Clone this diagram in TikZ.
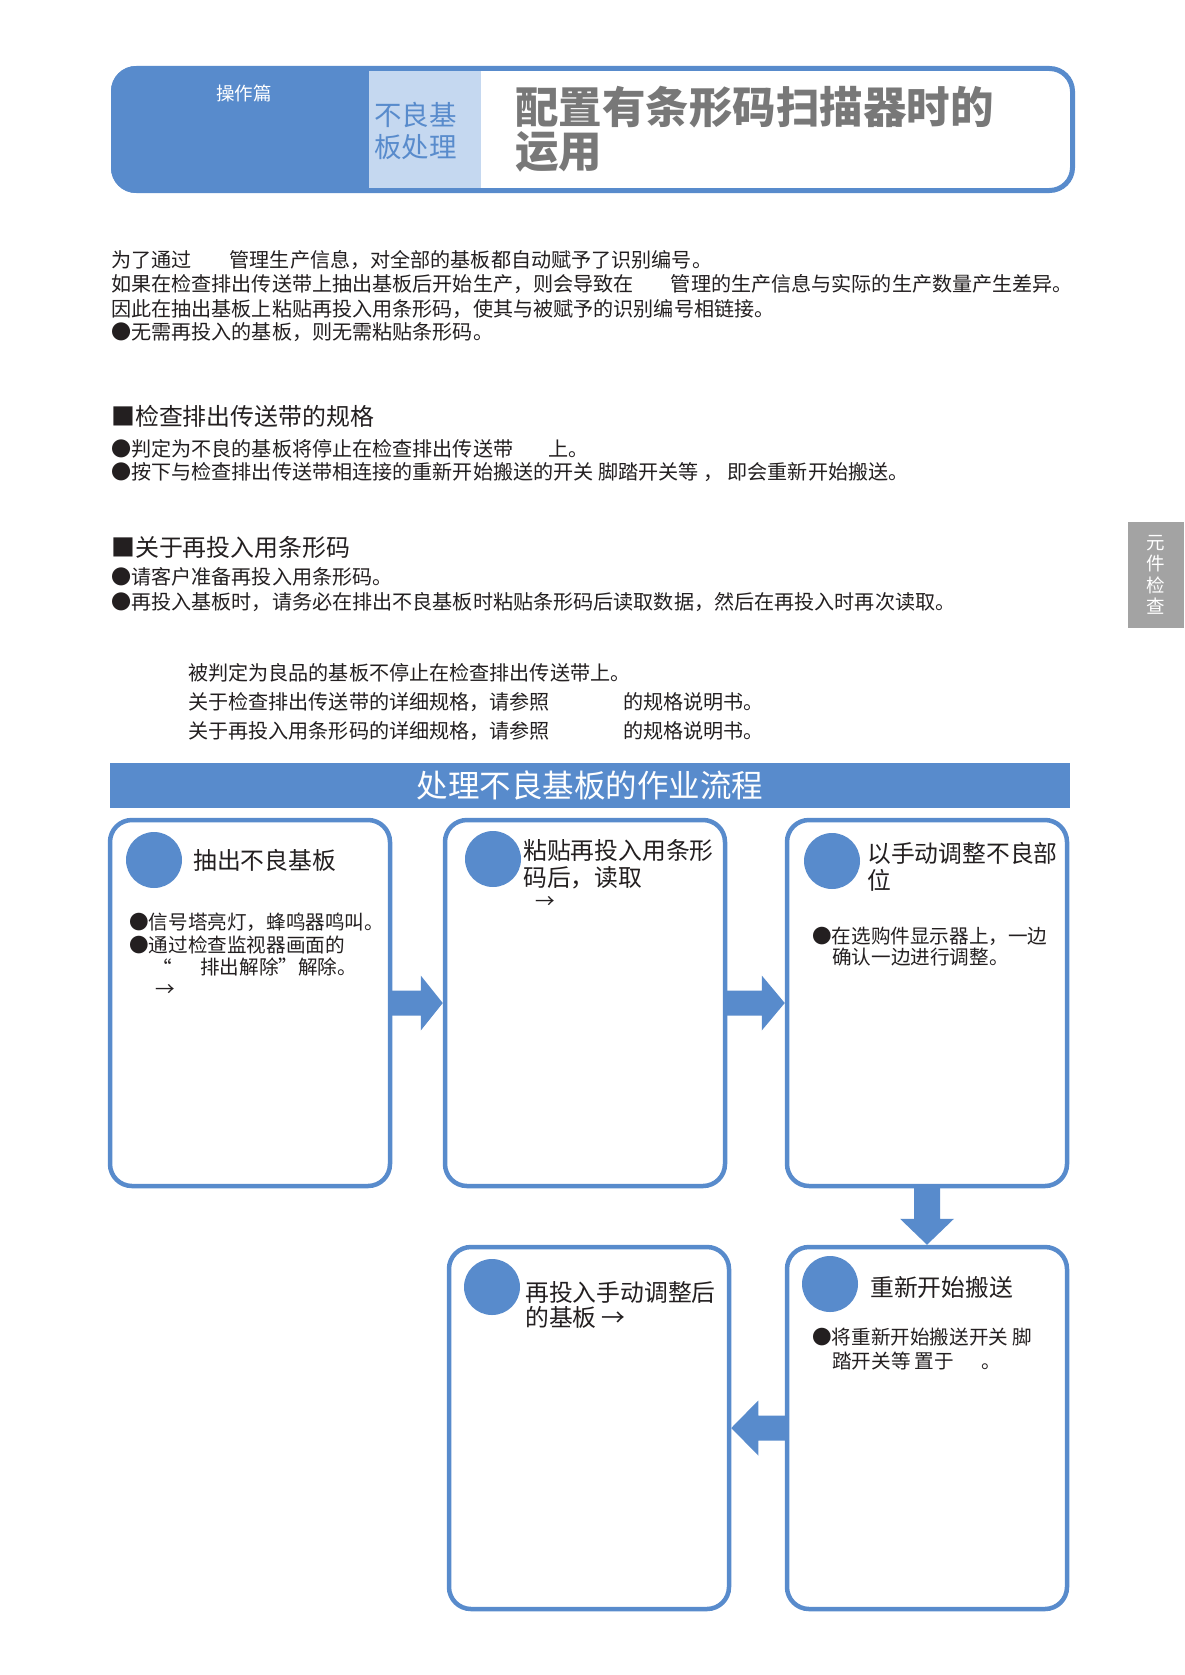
\documentclass[tikz,border=0pt]{standalone}
\usepackage{fontspec}
\setmainfont{Noto Sans CJK SC}
\usetikzlibrary{calc}
\definecolor{flowblue}{RGB}{88,139,204}
\definecolor{lightcell}{RGB}{197,216,240}
\definecolor{titlegray}{RGB}{120,120,120}
\definecolor{tabgray}{RGB}{163,163,163}
\definecolor{ink}{RGB}{35,31,32}
\begin{document}
\begin{tikzpicture}[x=1pt,y=-1pt,
  txt/.style={anchor=west, inner sep=0pt, text=ink, font=\fontsize{20.1}{24}\selectfont},
  headtxt/.style={anchor=west, inner sep=0pt, text=ink, font=\fontsize{23.9}{28}\selectfont},
  boxtitle/.style={anchor=west, inner sep=0pt, text=ink, font=\fontsize{23.8}{28}\selectfont},
  boxtxt/.style={anchor=west, inner sep=0pt, text=ink, font=\fontsize{19.6}{23}\selectfont},
  flowbox/.style={draw=flowblue, line width=4.5pt, rounded corners=22pt, fill=white, minimum width=280pt, inner sep=0pt},
  dot/.style={circle, fill=flowblue, minimum size=56pt, inner sep=0pt},
  blockarrow/.style={fill=flowblue}
]
\useasboundingbox (0,0) rectangle (1184,1675);
\fill[white] (0,0) rectangle (1184,1675);

% header
\begin{scope}
\clip[rounded corners=25pt] (111,66) rectangle (1075,193);
\fill[white] (111,66) rectangle (1075,193);
\fill[flowblue] (111,66) rectangle (369,193);
\fill[lightcell] (369,66) rectangle (481,193);
\end{scope}
\draw[flowblue, line width=5pt, rounded corners=23pt] (113.5,68.5) rectangle (1072.5,190.5);
\node[inner sep=0pt, text=white, font=\fontsize{18.5}{20}\selectfont] (hcat) at (244,93) {操作篇};
\node[anchor=west, inner sep=0pt, text=flowblue, font=\fontsize{27.5}{32}\selectfont] (hsub1) at (374,115) {不良基};
\node[anchor=west, inner sep=0pt, text=flowblue, font=\fontsize{27.5}{32}\selectfont] (hsub2) at (374,147) {板处理};
\node[anchor=west, inner sep=0pt, text=titlegray, font=\fontsize{43.5}{46}\selectfont\bfseries] (htitle1) at (515,107) {配置有条形码扫描器时的};
\node[anchor=west, inner sep=0pt, text=titlegray, font=\fontsize{43.5}{46}\selectfont\bfseries] (htitle2) at (515,152) {运用};

% intro
\node[txt] (p1) at (111,260) {为了通过\hspace{1.9em}管理生产信息，对全部的基板都自动赋予了识别编号。};
\node[txt] (p2) at (111,284) {如果在检查排出传送带上抽出基板后开始生产，则会导致在\hspace{1.85em}管理的生产信息与实际的生产数量产生差异。};
\node[txt] (p3) at (111,309) {因此在抽出基板上粘贴再投入用条形码，使其与被赋予的识别编号相链接。};
\node[txt] (p4) at (111,332) {●无需再投入的基板，则无需粘贴条形码。};

% section 1
\node[headtxt] (s1h) at (111,416) {■检查排出传送带的规格};
\node[txt] (s1a) at (111,449) {●判定为不良的基板将停止在检查排出传送带\hspace{1.75em}上。};
\node[txt] (s1b) at (111,472) {●按下与检查排出传送带相连接的重新开始搬送的开关 脚踏开关等 ， 即会重新开始搬送。};

% section 2
\node[headtxt] (s2h) at (111,547) {■关于再投入用条形码};
\node[txt] (s2a) at (111,577) {●请客户准备再投入用条形码。};
\node[txt] (s2b) at (111,602) {●再投入基板时，请务必在排出不良基板时粘贴条形码后读取数据，然后在再投入时再次读取。};

% notes
\node[txt] (n1) at (188,673) {被判定为良品的基板不停止在检查排出传送带上。};
\node[txt] (n2) at (188,702) {关于检查排出传送带的详细规格，请参照};
\node[txt] (n2b) at (623,702) {的规格说明书。};
\node[txt] (n3) at (188,731) {关于再投入用条形码的详细规格，请参照};
\node[txt] (n3b) at (623,731) {的规格说明书。};

% side tab
\fill[tabgray] (1128,522) rectangle (1184,628);
\node[inner sep=0pt, align=center, text=white, font=\fontsize{18.5}{21.5}\selectfont] (tab) at (1156,575) {元\\件\\检\\查};

% banner
\node[fill=flowblue, minimum width=960pt, minimum height=45pt, inner sep=0pt, text=white, font=\fontsize{31.5}{34}\selectfont] (banner) at (590,785) {处理不良基板的作业流程};

% flow boxes
\node[flowbox, minimum height=366pt] (b1) at (250,1003) {};
\node[flowbox, minimum height=366pt] (b2) at (585,1003) {};
\node[flowbox, minimum height=366pt] (b3) at (927,1003) {};
\node[flowbox, minimum height=362pt] (b4) at (589,1428) {};
\node[flowbox, minimum height=362pt] (b5) at (927,1428) {};

% circles
\node[dot] (c1) at (154,860) {};
\node[dot] (c2) at (493,859) {};
\node[dot] (c3) at (832,861) {};
\node[dot] (c4) at (492,1287) {};
\node[dot] (c5) at (830,1284) {};

% box 1 text
\node[boxtitle] (t1) at (193,860) {抽出不良基板};
\node[boxtxt] (t1a) at (129,922) {●信号塔亮灯，蜂鸣器鸣叫。};
\node[boxtxt] (t1b) at (129,945) {●通过检查监视器画面的};
\node[boxtxt] (t1q) at (152,967) {“};
\node[boxtxt] (t1c) at (200,967) {排出解除”解除。};
\node[boxtxt] (t1d) at (155,990) {→};

% box 2 text
\node[boxtitle] (t2a) at (523,850) {粘贴再投入用条形};
\node[boxtitle] (t2b) at (523,878) {码后，读取};
\node[boxtxt] (t2c) at (535,902) {→};

% box 3 text
\node[boxtitle] (t3a) at (867,853) {以手动调整不良部};
\node[boxtitle] (t3b) at (867,880) {位};
\node[boxtxt] (t3c) at (812,936) {●在选购件显示器上，一边};
\node[boxtxt] (t3d) at (832,957) {确认一边进行调整。};

% box 4 text
\node[boxtitle] (t4a) at (525,1292) {再投入手动调整后};
\node[boxtitle] (t4b) at (525,1317) {的基板 →};

% box 5 text
\node[boxtitle] (t5) at (870,1287) {重新开始搬送};
\node[boxtxt] (t5a) at (812,1337) {●将重新开始搬送开关 脚};
\node[boxtxt] (t5b) at (832,1361) {踏开关等 置于\hspace{1.4em}。};

% block arrows
\fill[blockarrow] ($(b1.east)+(-2,-12.5)$) -- ($(b2.west)+(-22,-12.5)$) -- ($(b2.west)+(-22,-27.5)$) -- (b2.west)
  -- ($(b2.west)+(-22,27.5)$) -- ($(b2.west)+(-22,12.5)$) -- ($(b1.east)+(-2,12.5)$) -- cycle;
\fill[blockarrow] ($(b2.east)+(-2,-12.5)$) -- ($(b3.west)+(-23,-12.5)$) -- ($(b3.west)+(-23,-27.5)$) -- (b3.west)
  -- ($(b3.west)+(-23,27.5)$) -- ($(b3.west)+(-23,12.5)$) -- ($(b2.east)+(-2,12.5)$) -- cycle;
\fill[blockarrow] ($(b3.south)+(-13,-2)$) -- ($(b5.north)+(-13,-26)$) -- ($(b5.north)+(-27,-26)$) -- (b5.north)
  -- ($(b5.north)+(27,-26)$) -- ($(b5.north)+(13,-26)$) -- ($(b3.south)+(13,-2)$) -- cycle;
\fill[blockarrow] ($(b5.west)+(2,-12.5)$) -- ($(b4.east)+(27,-12.5)$) -- ($(b4.east)+(27,-27.5)$) -- (b4.east)
  -- ($(b4.east)+(27,27.5)$) -- ($(b4.east)+(27,12.5)$) -- ($(b5.west)+(2,12.5)$) -- cycle;
\end{tikzpicture}
\end{document}
